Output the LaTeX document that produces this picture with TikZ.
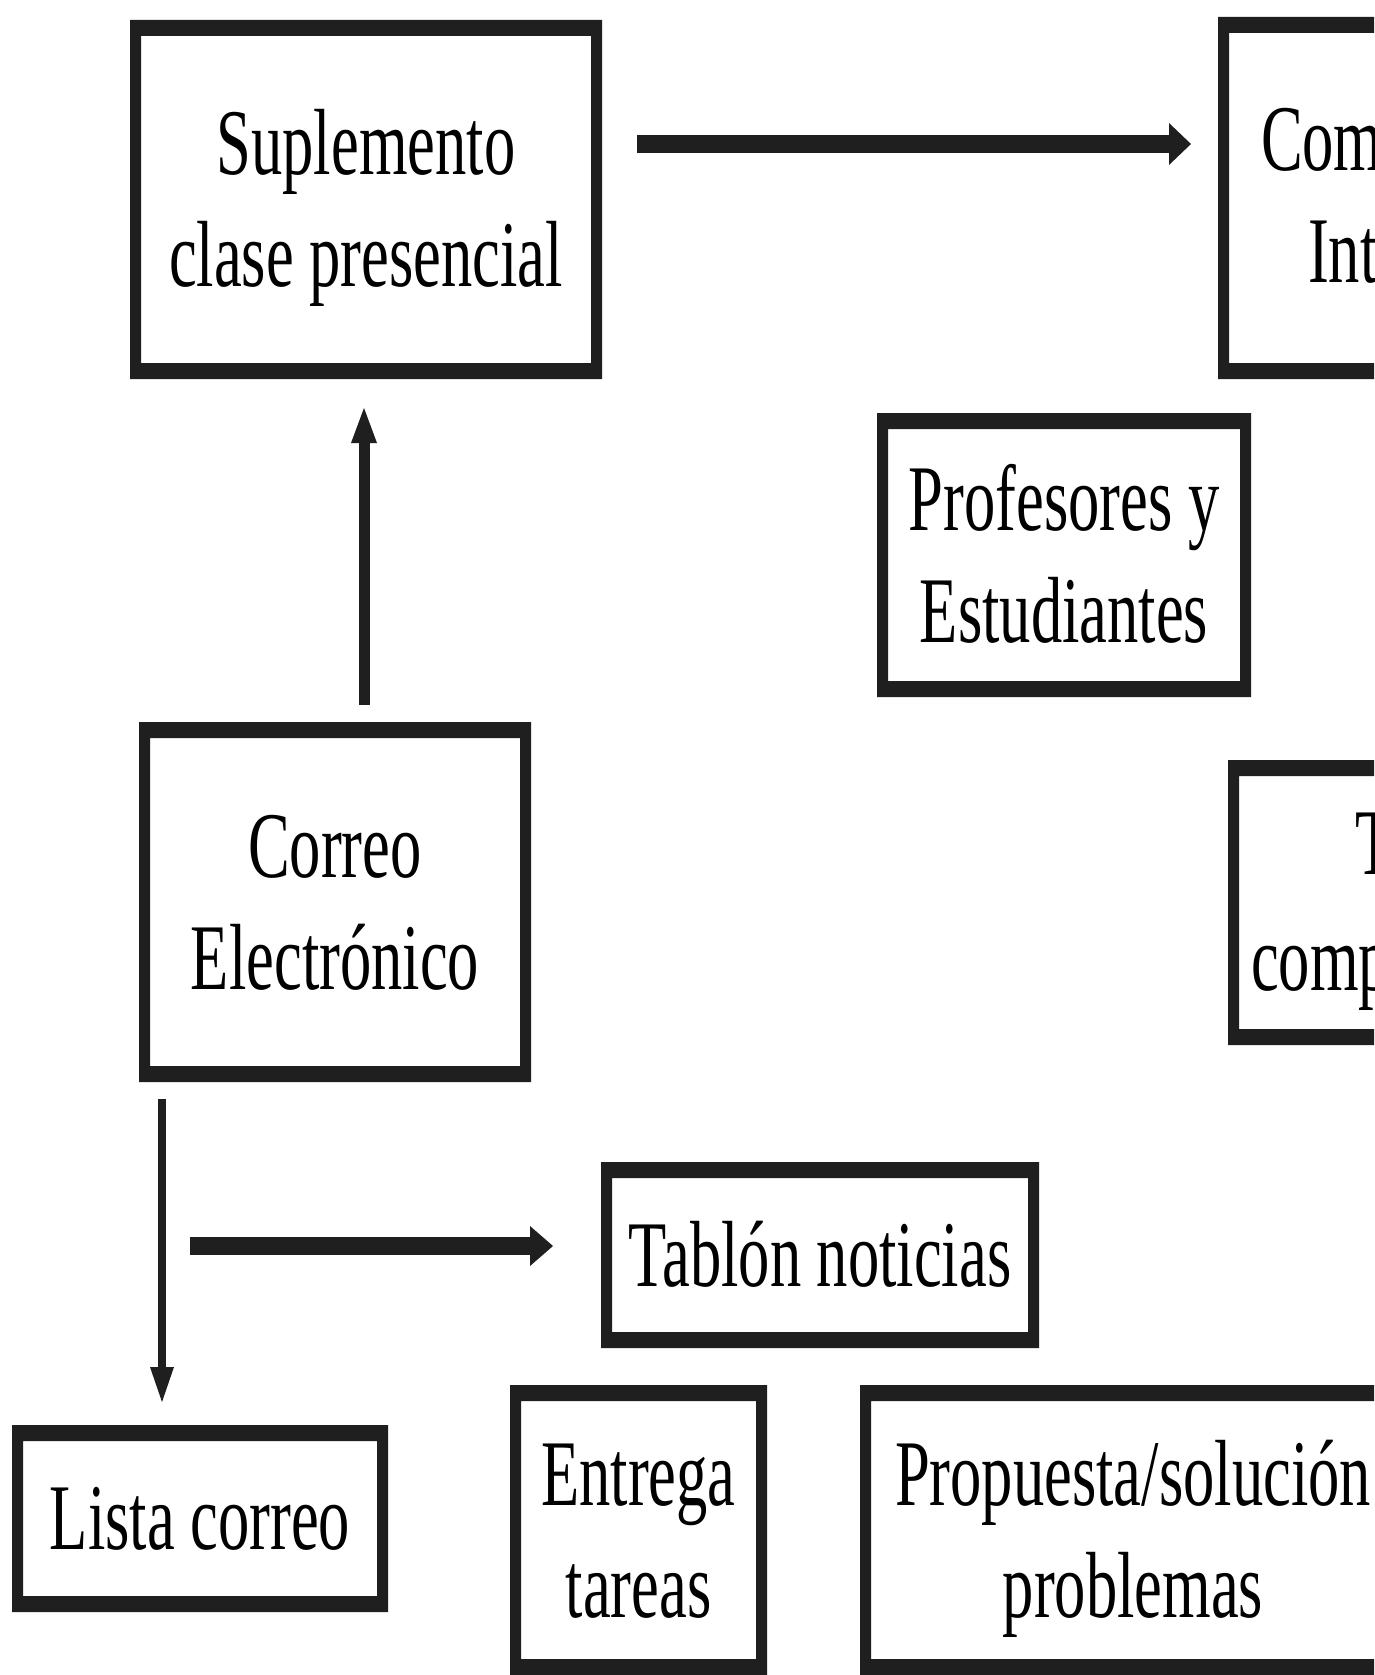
\documentclass[tikz,border=0pt]{standalone}
\usepackage{fontspec}
\setmainfont{Liberation Serif}[FakeStretch=0.665]
\usetikzlibrary{arrows.meta,calc}
\definecolor{ink}{HTML}{1F1F1F}
\newcommand\bigf{\fontsize{94}{112}\selectfont}
\newcommand\tl{\rule[-24pt]{0pt}{110pt}}
\newcommand\frm[1]{\fill[ink,even odd rule] (#1.north west) rectangle (#1.south east)
  ([xshift=11pt,yshift=-16pt]#1.north west) rectangle ([xshift=-11pt,yshift=16pt]#1.south east);}
\begin{document}
\begin{tikzpicture}[x=1pt,y=-1pt,
  box/.style={inner sep=0pt, outer sep=0pt, align=center, font=\bigf, text=black},
  frag/.style={inner sep=0pt, outer sep=0pt, anchor=base west, font=\bigf, text=black},
  harr/.style={draw=ink, line width=17pt, -{Triangle[length=22pt,width=42pt,line width=0pt]}},
  varr/.style={draw=ink, -{Triangle[length=35pt,width=26pt,line width=0pt]}}]
\useasboundingbox (0,0) rectangle (1374,1675);
\clip (0,0) rectangle (1374,1675);
\fill[white] (0,0) rectangle (1374,1675);

% boxes
\node[box, minimum width=472pt, minimum height=359pt] (sup) at (366,199.5) {\tl Suplemento\\\tl clase presencial};
\frm{sup}
\node[box, minimum width=500pt, minimum height=362pt] (com) at (1468,198) {};
\frm{com}
\node[frag] (comA) at (1261,170) {Com};
\node[frag] (comB) at (1308,282) {Int};
\node[box, minimum width=374pt, minimum height=284pt] (pro) at (1064,555) {\tl Profesores y\\\tl Estudiantes};
\frm{pro}
\node[box, minimum width=500pt, minimum height=285pt] (tbx) at (1478,902.5) {};
\frm{tbx}
\node[frag] (tA) at (1355,874) {T};
\node[frag] (tB) at (1251,990) {comp};
\node[box, minimum width=392pt, minimum height=360pt] (cor) at (335,902) {\tl Correo\\\tl Electrónico};
\frm{cor}
\node[box, minimum width=438pt, minimum height=186pt] (tab) at (820,1255) {\tl Tablón noticias};
\frm{tab}
\node[box, minimum width=376pt, minimum height=187pt] (lis) at (200,1518.5) {\tl Lista correo};
\frm{lis}
\node[box, minimum width=257pt, minimum height=290pt] (ent) at (638.5,1530) {\tl Entrega\\\tl tareas};
\frm{ent}
\node[box, minimum width=546pt, minimum height=290pt] (prop) at (1133,1530) {\tl Propuesta/solución\\\tl problemas};
\frm{prop}

% connectors
\draw[harr] ($(sup.north east)+(35,124)$) -- ($(com.north west)+(-27,127)$);
\draw[varr, line width=11pt] ($(cor.north)+(29,-17)$) -- ($(sup.south)+(-2,29)$);
\draw[varr, line width=8pt, -{Triangle[length=35pt,width=24pt,line width=0pt]}] ($(cor.south west)+(23,17)$) -- ($(lis.north)+(-38,-23)$);
\draw[harr, line width=18pt, -{Triangle[length=23pt,width=40pt,line width=0pt]}] ($(cor.south west)+(51,164)$) -- ($(tab.west)+(-48,-9)$);
\end{tikzpicture}
\end{document}
